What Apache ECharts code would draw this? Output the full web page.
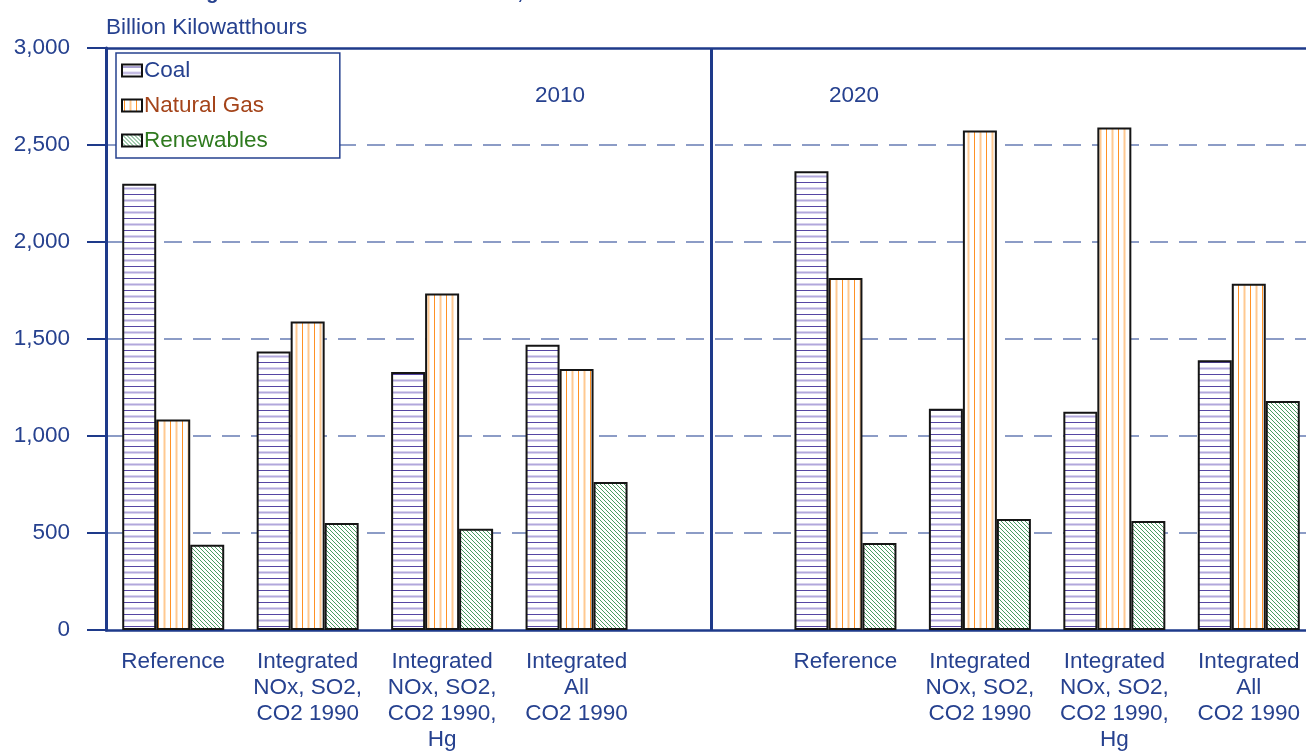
<!DOCTYPE html>
<html>
<head>
<meta charset="utf-8">
<title>Electricity Generation by Fuel</title>
<script src="https://cdn.jsdelivr.net/npm/echarts@6/dist/echarts.min.js"></script>
<style>
  html, body { margin: 0; padding: 0; background: #ffffff; }
  #chart { width: 1306px; height: 755px; }
</style>
</head>
<body>
<div id="chart"></div>
<script>
// Generation by fuel (billion kWh) for each case; the empty slot separates 2010 from 2020.
const categories = [
  'Reference',
  'Integrated\nNOx, SO2,\nCO2 1990',
  'Integrated\nNOx, SO2,\nCO2 1990,\nHg',
  'Integrated\nAll\nCO2 1990',
  '',
  'Reference',
  'Integrated\nNOx, SO2,\nCO2 1990',
  'Integrated\nNOx, SO2,\nCO2 1990,\nHg',
  'Integrated\nAll\nCO2 1990'
];
const coal       = [2300, 1435, 1330, 1470, null, 2365, 1140, 1125, 1390];
const naturalGas = [1085, 1590, 1735, 1345, null, 1815, 2575, 2590, 1785];
const renewables = [440,  552,  522,  763,  null, 448,  572,  562,  1180];
const yearLabels = ['2010', '2020'];
const yTicks = { min: 0, max: 3000, interval: 500 };

const TEXT = '#26418f';
const AXIS = '#1e3a8a';
const FONT = 'Liberation Sans, Arial, Helvetica, sans-serif';

// Hatch fills drawn on small repeating canvases
function tile(w, h, draw) {
  const c = document.createElement('canvas');
  c.width = w; c.height = h;
  const ctx = c.getContext('2d');
  ctx.fillStyle = '#ffffff';
  ctx.fillRect(0, 0, w, h);
  draw(ctx);
  return { image: c, repeat: 'repeat' };
}
const coalFill = tile(4, 12, ctx => {
  ctx.fillStyle = '#5646a4'; ctx.fillRect(0, 2, 4, 1);
  ctx.fillStyle = '#b2a8dc'; ctx.fillRect(0, 7.5, 4, 2);
});
const gasFill = tile(12, 4, ctx => {
  ctx.fillStyle = '#ff9124'; ctx.fillRect(2, 0, 1, 4);
  ctx.fillStyle = '#ffc991'; ctx.fillRect(7.5, 0, 2, 4);
});
const renewFill = tile(4, 4, ctx => {
  ctx.strokeStyle = '#4a9c62'; ctx.lineWidth = 1;
  ctx.beginPath();
  for (let k = -1; k <= 1; k++) {
    ctx.moveTo(k * 4 - 1, -1);
    ctx.lineTo(k * 4 + 5, 5);
  }
  ctx.stroke();
});

const barBase = {
  type: 'bar',
  barWidth: 34,
  barGap: '0%',
  itemStyle: { borderColor: '#151515', borderWidth: 2 }
};

const chart = echarts.init(document.getElementById('chart'), null, { renderer: 'canvas' });
chart.setOption({
  animation: false,
  textStyle: { fontFamily: FONT },
  // the plot runs slightly past the right edge of the page
  grid: { left: 106, top: 48, width: 1210, height: 582, containLabel: false, outerBoundsMode: 'none' },
  legend: {
    orient: 'vertical',
    left: 116,
    top: 53,
    itemWidth: 20,
    itemHeight: 12,
    itemGap: 12,
    padding: [6, 72, 6, 5],
    backgroundColor: '#ffffff',
    borderColor: TEXT,
    borderWidth: 1.5,
    borderRadius: 0,
    icon: 'rect',
    itemStyle: { borderColor: '#111111', borderWidth: 2 },
    textStyle: { fontSize: 22.5, fontFamily: FONT, padding: [0, 0, 0, -3] },
    data: [
      { name: 'Coal', textStyle: { color: '#26418f' } },
      { name: 'Natural Gas', textStyle: { color: '#a4441a' } },
      { name: 'Renewables', textStyle: { color: '#2f7a1f' } }
    ]
  },
  xAxis: {
    type: 'category',
    data: categories,
    axisTick: { show: false },
    axisLine: { show: true, lineStyle: { color: AXIS, width: 2.5 } },
    axisLabel: {
      interval: 0,
      margin: 19,
      color: TEXT,
      fontSize: 22.5,
      lineHeight: 26,
      fontFamily: FONT
    }
  },
  yAxis: {
    type: 'value',
    min: yTicks.min,
    max: yTicks.max,
    interval: yTicks.interval,
    name: 'Billion Kilowatthours',
    nameLocation: 'end',
    nameGap: 9,
    nameTextStyle: { color: TEXT, fontSize: 22.5, align: 'left', fontFamily: FONT },
    axisLine: { show: true, lineStyle: { color: AXIS, width: 3 } },
    axisTick: { show: true, length: 19, lineStyle: { color: AXIS, width: 2 } },
    axisLabel: {
      margin: 36,
      color: TEXT,
      fontSize: 22.5,
      fontFamily: FONT,
      formatter: v => v.toLocaleString('en-US')
    },
    splitLine: {
      show: true,
      showMaxLine: false,
      showMinLine: false,
      lineStyle: { color: '#8c9cc6', width: 2, type: [18, 11] }
    }
  },
  graphic: [
    {
      type: 'text', x: 0, y: 3, silent: true,
      style: {
        text: 'Total Generation Using the Three CO\u2082 Emission Limits, 2010 and 2020',
        font: 'bold 20px ' + FONT, fill: TEXT, verticalAlign: 'bottom'
      }
    },
    {
      type: 'text', x: 560, y: 96, silent: true,
      style: { text: yearLabels[0], font: '22.5px ' + FONT, fill: TEXT, align: 'center', verticalAlign: 'middle' }
    },
    {
      type: 'text', x: 854, y: 96, silent: true,
      style: { text: yearLabels[1], font: '22.5px ' + FONT, fill: TEXT, align: 'center', verticalAlign: 'middle' }
    }
  ],
  series: [
    Object.assign({}, barBase, {
      name: 'Coal',
      data: coal,
      itemStyle: Object.assign({}, barBase.itemStyle, { color: coalFill })
    }),
    Object.assign({}, barBase, {
      name: 'Natural Gas',
      data: naturalGas,
      itemStyle: Object.assign({}, barBase.itemStyle, { color: gasFill }),
      // top border of the plot and the divider between the two years
      markLine: {
        silent: true,
        symbol: 'none',
        label: { show: false },
        lineStyle: { color: AXIS, type: 'solid', width: 2.5 },
        data: [
          { yAxis: yTicks.max },
          { xAxis: 4, lineStyle: { width: 3 } }
        ]
      }
    }),
    Object.assign({}, barBase, {
      name: 'Renewables',
      data: renewables,
      itemStyle: Object.assign({}, barBase.itemStyle, { color: renewFill })
    })
  ]
});
</script>
</body>
</html>
